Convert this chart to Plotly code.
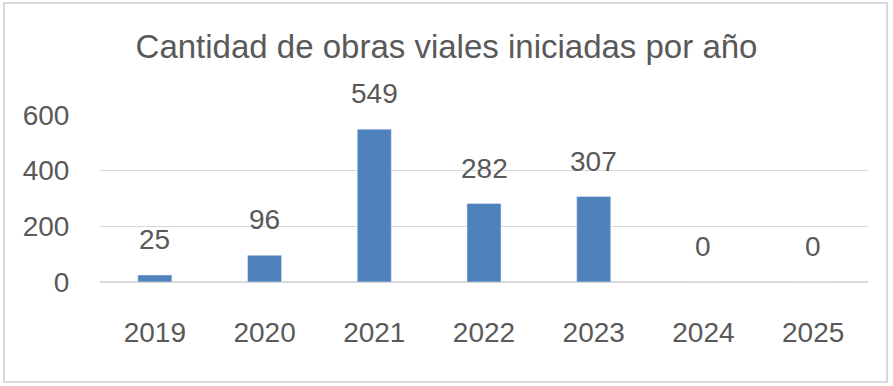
import plotly.graph_objects as go

years = ["2019", "2020", "2021", "2022", "2023", "2024", "2025"]
obras = [25, 96, 549, 282, 307, 0, 0]
y_ticks = [0, 200, 400, 600]
title_text = "Cantidad de obras viales iniciadas por año"

W, H = 893, 386
L, R, T, B = 100, 25, 115, 104
FONT = "Liberation Sans"
GRAY = "#595959"

fig = go.Figure(go.Bar(x=years, y=obras, marker_color="#4F81BD"))

for i, v in enumerate(obras):
    fig.add_annotation(x=i, y=v, text=str(v), showarrow=False, yanchor="bottom",
                       yshift=18, font=dict(family=FONT, size=28, color=GRAY))

pw, ph = W - L - R, H - T - B
fig.add_shape(type="rect", xref="paper", yref="paper",
              x0=(4 - L) / pw, x1=(887 - L) / pw,
              y0=(H - 382 - B) / ph, y1=(H - 3 - B) / ph,
              line=dict(color="#d9d9d9", width=2))

fig.update_layout(
    width=W, height=H, margin=dict(l=L, r=R, t=T, b=B),
    paper_bgcolor="white", plot_bgcolor="white",
    bargap=0.69,
    title=dict(text=title_text, x=0.5, xanchor="center",
               y=1 - 46 / H, yanchor="middle",
               font=dict(family=FONT, size=33, color=GRAY)),
    showlegend=False,
    xaxis=dict(type="category", range=[-0.5, len(years) - 0.5], showgrid=False, showline=False,
               tickfont=dict(family=FONT, size=28, color=GRAY),
               ticks="outside", ticklen=25, tickcolor="rgba(0,0,0,0)"),
    yaxis=dict(range=[0, 600], tickvals=y_ticks, showgrid=True, gridcolor="#d9d9d9",
               zeroline=True, zerolinecolor="#d9d9d9", showline=False,
               tickfont=dict(family=FONT, size=28, color=GRAY),
               ticks="outside", ticklen=24, tickcolor="rgba(0,0,0,0)"),
)

fig.write_html("out.html", config={"displayModeBar": False},
               post_script="document.body.style.margin='0';")
